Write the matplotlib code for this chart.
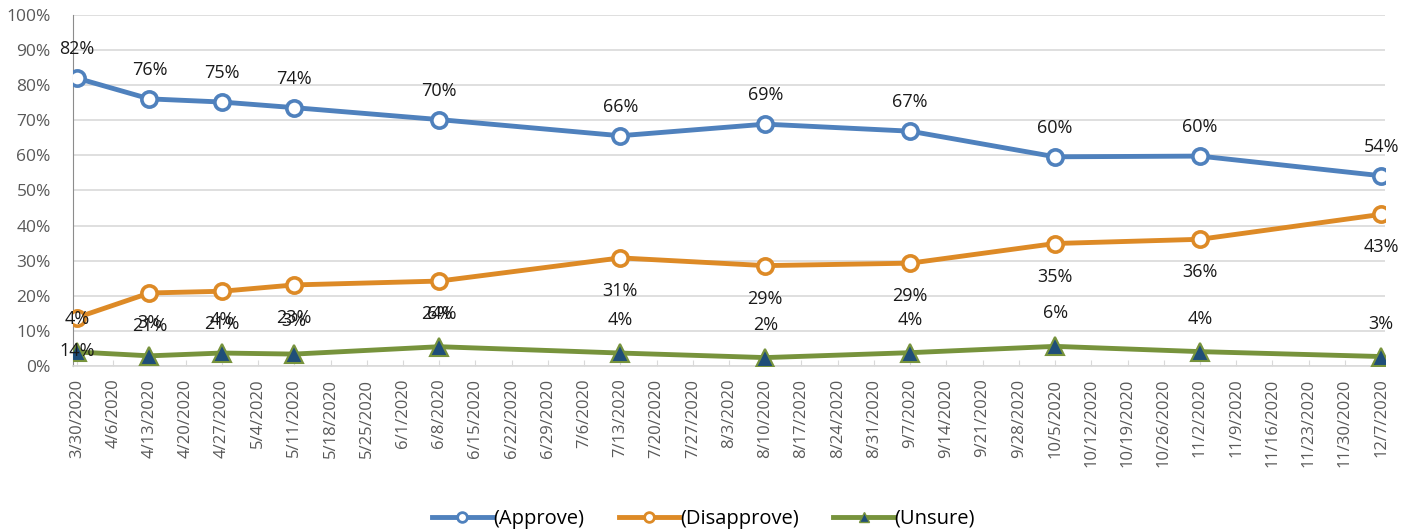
import datetime as dt
import matplotlib
matplotlib.use("Agg")
import matplotlib.pyplot as plt
from matplotlib.lines import Line2D

plt.rcParams['font.family'] = ['Open Sans', 'DejaVu Sans']

poll_dates = ["3/30/2020", "4/13/2020", "4/27/2020", "5/11/2020", "6/8/2020", "7/13/2020",
              "8/10/2020", "9/7/2020", "10/5/2020", "11/2/2020", "12/7/2020"]
approve = [82, 76, 75, 74, 70, 66, 69, 67, 60, 60, 54]
approve_pos = [82.0, 76.1, 75.2, 73.6, 70.2, 65.6, 68.9, 66.9, 59.6, 59.8, 54.2]
disapprove = [14, 21, 21, 23, 24, 31, 29, 29, 35, 36, 43]
disapprove_pos = [13.8, 20.8, 21.3, 23.1, 24.2, 30.8, 28.6, 29.3, 34.9, 36.1, 43.2]
unsure = [4, 3, 4, 3, 6, 4, 2, 4, 6, 4, 3]
unsure_pos = [4.0, 2.9, 3.7, 3.4, 5.5, 3.7, 2.4, 3.8, 5.6, 4.1, 2.7]

first_week = dt.datetime(2020, 3, 30)
last_week = dt.datetime(2020, 12, 7)

BLUE = "#4f81bd"
ORANGE = "#dd8a26"
GREEN = "#77933c"
NAVY = "#1f4e79"


def to_date(s):
    m, d, y = s.split("/")
    return dt.datetime(int(y), int(m), int(d))


def main():
    x = [to_date(s) for s in poll_dates]
    weeks = []
    w = first_week
    while w <= last_week:
        weeks.append(w)
        w += dt.timedelta(days=7)

    fig = plt.figure(figsize=(14.16, 5.31), dpi=100)
    ax = fig.add_axes([0.0516, 0.3107, 0.9265, 0.6611])

    ax.plot(x, approve_pos, color=BLUE, lw=3.5, marker="o", ms=11,
            mfc="white", mec=BLUE, mew=2.6, zorder=3)
    ax.plot(x, disapprove_pos, color=ORANGE, lw=3.5, marker="o", ms=11,
            mfc="white", mec=ORANGE, mew=2.6, zorder=3)
    ax.plot(x, unsure_pos, color=GREEN, lw=3.5, marker="^", ms=13,
            mfc=NAVY, mec=GREEN, mew=1.5, zorder=3)

    for xi, yv, v in zip(x, approve_pos, approve):
        ax.annotate(f"{v}%", (xi, yv), xytext=(0, 29), textcoords="offset pixels",
                    ha="center", va="center", fontsize=13, color="#1a1a1a")
    for xi, yv, v in zip(x, disapprove_pos, disapprove):
        ax.annotate(f"{v}%", (xi, yv), xytext=(0, -33), textcoords="offset pixels",
                    ha="center", va="center", fontsize=13, color="#1a1a1a")
    for xi, yv, v in zip(x, unsure_pos, unsure):
        ax.annotate(f"{v}%", (xi, yv), xytext=(0, 33), textcoords="offset pixels",
                    ha="center", va="center", fontsize=13, color="#1a1a1a")

    ax.set_ylim(0, 100)
    ax.set_yticks(range(0, 101, 10))
    ax.set_yticklabels([f"{v}%" for v in range(0, 101, 10)])
    ax.set_xlim(first_week - dt.timedelta(hours=18), last_week + dt.timedelta(hours=18))
    ax.set_xticks(weeks)
    ax.set_xticklabels([f"{d.month}/{d.day}/{d.year}" for d in weeks], rotation=90)

    ax.grid(axis="y", color="#d9d9d9", lw=1.2)
    ax.set_axisbelow(True)
    for side in ["top", "right"]:
        ax.spines[side].set_visible(False)
    ax.spines["left"].set_color("#8c8c8c")
    ax.spines["bottom"].set_color("#d9d9d9")
    ax.spines["bottom"].set_linewidth(1.2)
    ax.tick_params(axis="y", length=0, labelsize=12.5, labelcolor="#595959", pad=16)
    ax.tick_params(axis="x", direction="in", length=4, color="#d9d9d9",
                   labelsize=12, labelcolor="#595959", pad=9)

    handles = [
        Line2D([], [], color=BLUE, lw=3.5, marker="o", ms=7, mfc="white", mec=BLUE, mew=2),
        Line2D([], [], color=ORANGE, lw=3.5, marker="o", ms=7, mfc="white", mec=ORANGE, mew=2),
        Line2D([], [], color=GREEN, lw=3.5, marker="^", ms=7, mfc=NAVY, mec=GREEN, mew=1),
    ]
    fig.legend(handles, ["(Approve)", "(Disapprove)", "(Unsure)"],
               loc="lower center", bbox_to_anchor=(0.497, -0.03), ncol=3, frameon=False,
               fontsize=14.5, handlelength=3.0, columnspacing=1.7, handletextpad=0.05)

    fig.savefig("out.png", dpi=100)


if __name__ == "__main__":
    main()
